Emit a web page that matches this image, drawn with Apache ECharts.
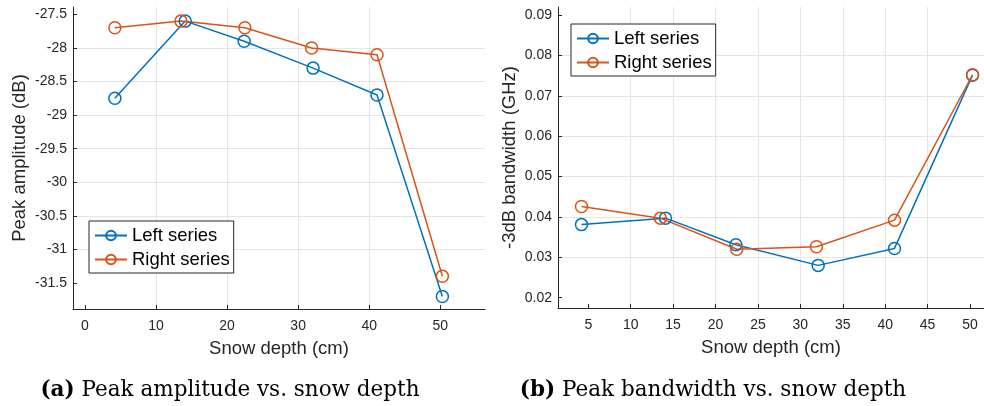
<!DOCTYPE html>
<html>
<head>
<meta charset="utf-8">
<script src="https://cdn.jsdelivr.net/npm/echarts@6/dist/echarts.min.js"></script>
<style>html,body{margin:0;padding:0;background:#fff;}#c{width:984px;height:406px;}</style>
</head>
<body>
<div id="c"></div>
<script>
// ---- data ----
const depthLeftSeries = [4.2, 14.1, 22.4, 32.1, 41.1, 50.3];
const depthRightSeries = [4.2, 13.5, 22.5, 31.9, 41.1, 50.3];
const amplitudeLeft = [-28.75, -27.6, -27.9, -28.3, -28.7, -31.7];
const amplitudeRight = [-27.7, -27.6, -27.7, -28.0, -28.1, -31.4];
const bandwidthLeft = [0.0381, 0.0397, 0.0331, 0.0280, 0.0322, 0.0751];
const bandwidthRight = [0.0426, 0.0397, 0.0320, 0.0326, 0.0392, 0.0752];
const xTicksA = [0, 10, 20, 30, 40, 50];
const yTicksA = [-31.5, -31, -30.5, -30, -29.5, -29, -28.5, -28, -27.5];
const xTicksB = [5, 10, 15, 20, 25, 30, 35, 40, 45, 50];
const yTicksB = [0.02, 0.03, 0.04, 0.05, 0.06, 0.07, 0.08, 0.09];
const seriesNames = ['Left series', 'Right series'];
const captionA = 'Peak amplitude vs. snow depth';
const captionB = 'Peak bandwidth vs. snow depth';

const zip = (xs, ys) => xs.map((x, i) => [x, ys[i]]);
const BLUE = '#0072BD', ORANGE = '#D95319';
const AX = '#262626', GRID = '#e5e5e5';
const SANS = "'Liberation Sans', Arial, sans-serif";
const SERIF = "'DejaVu Serif', serif";

function xAxis(gi, min, max, ticks, split) {
  return {
    type: 'value', gridIndex: gi, min: min, max: max, splitNumber: split,
    name: 'Snow depth (cm)', nameLocation: 'middle', nameGap: 30,
    nameTextStyle: {color: AX, fontSize: 18.5, fontFamily: SANS},
    axisLine: {show: true, onZero: false, lineStyle: {color: AX, width: 1}},
    axisTick: {show: true, inside: true, length: 4, lineStyle: {color: AX}, customValues: ticks},
    axisLabel: {color: AX, fontSize: 14, fontFamily: SANS, margin: 10, customValues: ticks},
    splitLine: {show: true, showMinLine: false, showMaxLine: false, lineStyle: {color: GRID, width: 1}}
  };
}
function yAxis(gi, min, max, ticks, split, name, gap) {
  return {
    type: 'value', gridIndex: gi, min: min, max: max, splitNumber: split,
    name: name, nameLocation: 'middle', nameGap: gap,
    nameTextStyle: {color: AX, fontSize: 18.5, fontFamily: SANS},
    axisLine: {show: true, onZero: false, lineStyle: {color: AX, width: 1}},
    axisTick: {show: true, inside: true, length: 4, lineStyle: {color: AX}, customValues: ticks},
    axisLabel: {color: AX, fontSize: 14, fontFamily: SANS, margin: 6, customValues: ticks},
    splitLine: {show: true, showMinLine: false, showMaxLine: false, lineStyle: {color: GRID, width: 1}}
  };
}
function ser(name, gi, color, data) {
  return {
    type: 'line', name: name, xAxisIndex: gi, yAxisIndex: gi, data: data,
    symbol: 'circle', symbolSize: 12, showSymbol: true, animation: false,
    lineStyle: {color: color, width: 1.5},
    itemStyle: {color: 'rgba(255,255,255,0)', borderColor: color, borderWidth: 1.5},
    emphasis: {disabled: true}
  };
}
function legend(left, top) {
  return {
    orient: 'vertical', left: left, top: top, data: seriesNames,
    itemWidth: 32, itemHeight: 12, itemGap: 5,
    padding: [5, 4, 4, 5],
    backgroundColor: '#fff', borderColor: AX, borderWidth: 1,
    textStyle: {color: '#000', fontSize: 18.5, fontFamily: SANS, lineHeight: 19},
    selectedMode: false
  };
}
function caption(x, tag, text) {
  return {type: 'text', x: x, y: 390, style: {
    text: '{b|' + tag + '} ' + text, align: 'center', verticalAlign: 'middle',
    fill: '#000', font: "21.5px " + SERIF,
    rich: {b: {fontWeight: 'bold', fontSize: 21.5, fontFamily: SERIF, fill: '#000'}}
  }};
}

const chart = echarts.init(document.getElementById('c'), null, {renderer: 'canvas'});
chart.setOption({
  animation: false,
  backgroundColor: '#fff',
  grid: [
    {left: 73, top: 7, width: 412, height: 302},
    {left: 558, top: 7, width: 426, height: 301}
  ],
  xAxis: [xAxis(0, -1.69, 56.3, xTicksA, 5), xAxis(1, 1.43, 51.65, xTicksB, 10)],
  yAxis: [
    yAxis(0, -31.887, -27.39, yTicksA, 8, 'Peak amplitude (dB)', 44),
    yAxis(1, 0.01745, 0.09198, yTicksB, 7, '-3dB bandwidth (GHz)', 39)
  ],
  legend: [legend(89, 221), legend(571, 24)],
  series: [
    ser(seriesNames[0], 0, BLUE, zip(depthLeftSeries, amplitudeLeft)),
    ser(seriesNames[1], 0, ORANGE, zip(depthRightSeries, amplitudeRight)),
    ser(seriesNames[0], 1, BLUE, zip(depthLeftSeries, bandwidthLeft)),
    ser(seriesNames[1], 1, ORANGE, zip(depthRightSeries, bandwidthRight))
  ],
  graphic: [caption(230, '(a)', captionA), caption(713, '(b)', captionB)]
});
</script>
</body>
</html>
